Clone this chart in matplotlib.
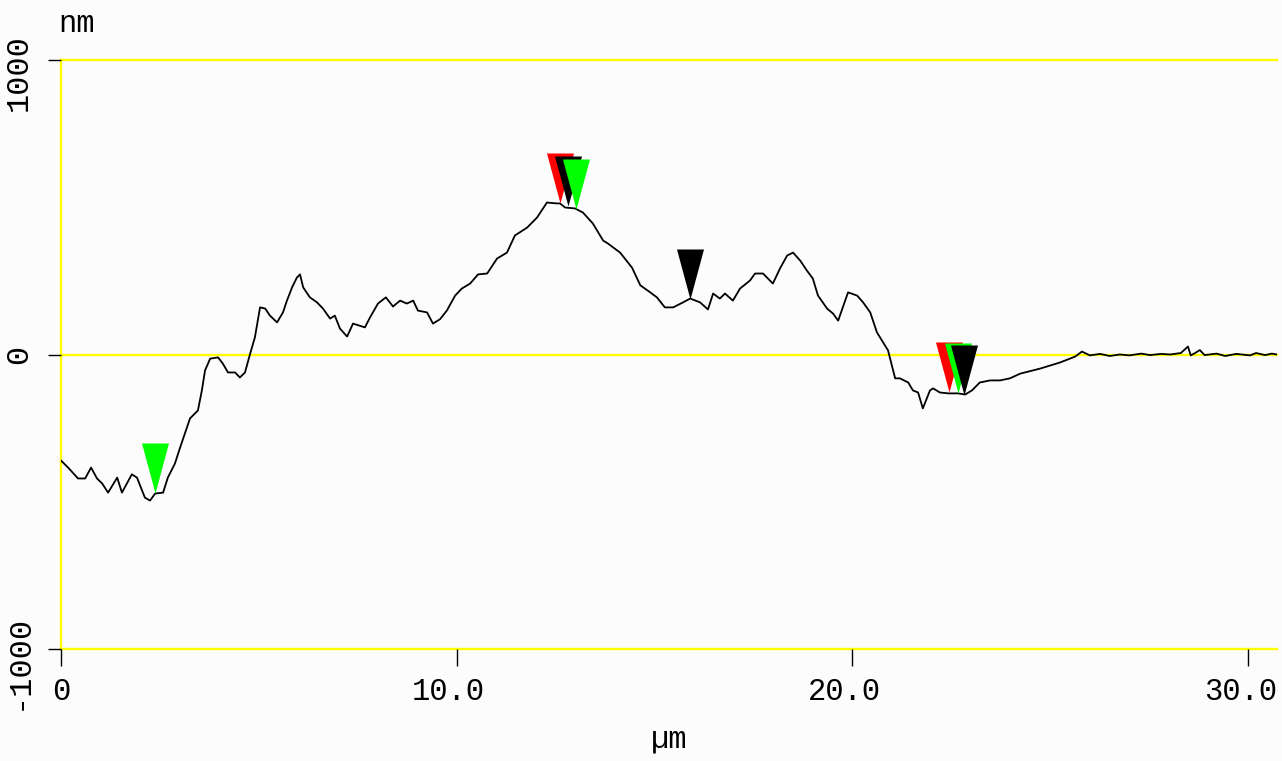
import numpy as np
import matplotlib.pyplot as plt
from matplotlib.path import Path
from matplotlib.transforms import ScaledTranslation

# section profile: distance (um) and height (nm)
dist_um = [0.00, 0.18, 0.43, 0.61, 0.76, 0.91, 1.04, 1.19, 1.42, 1.54,
           1.79, 1.92, 2.12, 2.25, 2.38, 2.58, 2.70, 2.88, 3.01, 3.13,
           3.26, 3.46, 3.56, 3.64, 3.77, 3.97, 4.09, 4.22, 4.40, 4.52,
           4.65, 4.78, 4.90, 5.03, 5.16, 5.28, 5.46, 5.61, 5.71, 5.84,
           5.96, 6.04, 6.12, 6.29, 6.47, 6.62, 6.80, 6.92, 7.05, 7.23,
           7.38, 7.68, 7.81, 8.01, 8.21, 8.39, 8.57, 8.74, 8.90, 9.02,
           9.25, 9.40, 9.58, 9.75, 9.96, 10.13, 10.34, 10.54, 10.77, 11.02,
           11.27, 11.47, 11.78, 12.03, 12.28, 12.53, 12.61, 12.74, 12.99, 13.19,
           13.44, 13.70, 13.82, 14.13, 14.43, 14.64, 14.89, 15.06, 15.26, 15.47,
           15.72, 15.90, 16.15, 16.35, 16.48, 16.65, 16.78, 16.98, 17.16, 17.41,
           17.54, 17.74, 17.99, 18.17, 18.35, 18.50, 18.68, 18.85, 19.00, 19.13,
           19.36, 19.51, 19.64, 19.89, 20.12, 20.27, 20.45, 20.62, 20.90, 21.08,
           21.20, 21.41, 21.53, 21.66, 21.78, 21.96, 22.04, 22.21, 22.42, 22.67,
           22.85, 23.02, 23.22, 23.48, 23.73, 23.98, 24.24, 24.74, 25.25, 25.63,
           25.80, 26.00, 26.26, 26.50, 26.76, 27.00, 27.30, 27.52, 27.80, 28.03,
           28.30, 28.48, 28.55, 28.66, 28.78, 28.90, 29.20, 29.42, 29.70, 30.05,
           30.20, 30.43, 30.60, 30.73]
height_nm = [-360, -384, -421, -421, -384, -421, -438, -469, -418, -469,
             -407, -418, -486, -496, -472, -469, -418, -370, -316, -268,
             -217, -190, -122, -54, -14, -10, -31, -61, -61, -78,
             -61, 3, 58, 160, 156, 132, 109, 143, 183, 228,
             261, 272, 228, 194, 177, 156, 122, 132, 88, 61,
             105, 92, 126, 173, 194, 163, 183, 173, 183, 149,
             143, 105, 120, 149, 200, 224, 241, 272, 275, 326,
             346, 404, 431, 465, 516, 513, 513, 499, 496, 482,
             445, 387, 377, 346, 295, 235, 211, 194, 160, 160,
             177, 190, 177, 153, 207, 190, 207, 183, 224, 251,
             275, 275, 241, 292, 336, 346, 319, 285, 258, 200,
             156, 139, 115, 211, 200, 177, 143, 75, 14, -81,
             -81, -95, -122, -129, -183, -122, -115, -129, -132, -132,
             -136, -122, -95, -88, -88, -81, -65, -48, -27, -7,
             10, -3, 2, -5, 0, -3, 3, -2, 2, 0,
             5, 27, -3, 5, 15, -2, 3, -5, 2, -3,
             5, -2, 3, 0]

# cursor markers, listed in drawing order (later ones on top)
cursor_x = [2.38, 12.61, 12.82, 13.02, 15.90, 22.45, 22.67, 22.83]
cursor_y = [-470, 513, 505, 493, 190, -128, -132, -136]
cursor_c = ['#00ff00', '#ff0000', '#000000', '#00ff00', '#000000',
            '#ff0000', '#00ff00', '#000000']

x_ticks = [0, 10, 20, 30]
x_labels = ['0', '10.0', '20.0', '30.0']
y_ticks = [-1000, 0, 1000]
y_labels = ['-1000', '0', '1000']

bg = '#fcfcfc'
yellow = '#ffff00'
mono = ['Liberation Mono', 'DejaVu Sans Mono']

fig = plt.figure(figsize=(12.82, 7.61), dpi=100, facecolor=bg)
ax = fig.add_axes([61 / 1282, 112 / 761, 1216 / 1282, 589 / 761])
ax.set_facecolor(bg)
ax.set_xlim(0, 30.73)
ax.set_ylim(-1000, 1000)

for s in ax.spines.values():
    s.set_visible(False)

for yv in y_ticks:
    ax.axhline(yv, color=yellow, lw=1.7, clip_on=False, zorder=1)
ax.axvline(0, color=yellow, lw=1.7, clip_on=False, zorder=1)

ax.plot(dist_um, height_nm, color='black', lw=1.3, zorder=3)

# down-pointing triangle with its tip at the origin
tri = Path([(-0.27, 1.0), (0.27, 1.0), (0.0, 0.0), (-0.27, 1.0)],
           [Path.MOVETO, Path.LINETO, Path.LINETO, Path.CLOSEPOLY])
for i, (cx, cy, cc) in enumerate(zip(cursor_x, cursor_y, cursor_c)):
    ax.plot([cx], [cy], linestyle='none', marker=tri, markersize=72,
            color=cc, markeredgewidth=0, zorder=5 + i, clip_on=False)

ax.set_xticks(x_ticks)
ax.set_xticklabels(x_labels, fontfamily=mono, fontsize=22)
ax.set_yticks(y_ticks)
ax.set_yticklabels(y_labels, fontfamily=mono, fontsize=23, rotation=90,
                   va='center')
ax.tick_params(axis='x', direction='out', length=12.5, width=1,
               color='black', pad=8)
ax.tick_params(axis='y', direction='out', length=9.5, width=1,
               color='black', pad=10)

# decimal point sits on the tick
for lab in ax.get_xticklabels():
    if '.' in lab.get_text():
        off = ScaledTranslation(-0.08, 0, fig.dpi_scale_trans)
        lab.set_transform(lab.get_transform() + off)
for lab in ax.get_yticklabels():
    if len(lab.get_text()) > 1:
        off = ScaledTranslation(0, -0.125, fig.dpi_scale_trans)
        lab.set_transform(lab.get_transform() + off)

ax.set_xlabel('\u00b5m', fontfamily=mono, fontsize=22, labelpad=12)
fig.text(77 / 1282, 1 - 24 / 761, 'nm', fontfamily=mono, fontsize=22,
         ha='center', va='center')

fig.savefig('out.png', dpi=100, facecolor=bg)
